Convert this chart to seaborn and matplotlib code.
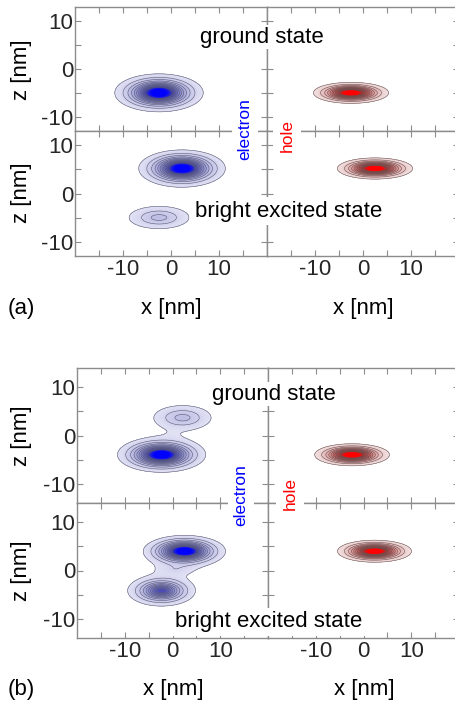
import numpy as np
import matplotlib
matplotlib.use('Agg')
import matplotlib.pyplot as plt
from matplotlib.colors import LinearSegmentedColormap, Normalize
import seaborn as sns

sns.set_theme(style='white')
plt.rcParams['font.family'] = ['Liberation Sans', 'DejaVu Sans']
plt.rcParams['axes.unicode_minus'] = False

# lobes of each density map: (x0, z0, width_x, width_z, amplitude), nm
a_elec_ground = [(-2.5, -5.0, 2.38, 1.03, 1.0)]
a_elec_bright = [(2.3, 5.2, 2.33, 1.0, 1.0), (-2.5, -5.0, 3.13, 1.16, 0.17)]
a_hole_ground = [(-2.5, -5.0, 2.02, 0.57, 1.0)]
a_hole_bright = [(2.5, 5.2, 2.02, 0.57, 1.0)]

b_elec_ground = [(-2.3, -4.0, 2.38, 0.94, 1.0), (2.1, 3.7, 3.0, 1.26, 0.17),
                 (0.0, 0.2, 1.2, 0.6, 0.011)]
b_elec_bright = [(2.5, 4.0, 2.22, 0.85, 1.0), (-2.3, -4.2, 2.18, 0.98, 0.55),
                 (0.6, 0.2, 2.5, 0.8, 0.06)]
b_hole_ground = [(-2.4, -4.0, 2.02, 0.59, 1.0)]
b_hole_bright = [(2.3, 4.0, 2.0, 0.59, 1.0)]

x_ticks = [-15, -10, -5, 0, 5, 10, 15]
x_ticklabels = ['', '-10', '', '0', '', '10', '']
z_ticks = [-10, -5, 0, 5, 10]
z_ticklabels = ['-10', '', '0', '', '10']
line_levels = np.linspace(0.05, 0.6, 12)
fill_levels = np.linspace(0.05, 1.0, 96)

elec_cmap = LinearSegmentedColormap.from_list(
    'elec', [(0, '#e2e2f5'), (0.32, '#8484cc'), (0.58, '#3a3ab4'), (0.84, '#0000ff'), (1, '#0000ff')])
hole_cmap = LinearSegmentedColormap.from_list(
    'hole', [(0, '#f2e2e2'), (0.32, '#c86060'), (0.58, '#b82828'), (0.84, '#ff0000'), (1, '#ff0000')])
norm = Normalize(0.05, 1.0)

W, H = 455, 702
fig = plt.figure(figsize=(W / 100, H / 100), dpi=100)


def box(l, t, r, b):
    return [l / W, 1 - b / H, (r - l) / W, (b - t) / H]


def density(lobes, xg, zg):
    f = np.zeros_like(xg)
    for x0, z0, sx, sz, amp in lobes:
        r2 = ((xg - x0) / sx) ** 2 + ((zg - z0) / sz) ** 2
        f += amp * np.exp(1.0 - np.sqrt(1.0 + r2))
    return f


def draw_map(rect, lobes, cmap, line_color, zmax, xlabels, zlabels):
    ax = fig.add_axes(rect)
    xg, zg = np.meshgrid(np.linspace(-20, 20, 400), np.linspace(-zmax, zmax, 300))
    f = density(lobes, xg, zg)
    ax.contourf(xg, zg, f, levels=fill_levels, cmap=cmap, norm=norm, extend='max')
    ax.contour(xg, zg, f, levels=line_levels, colors=line_color, linewidths=0.4)
    ax.set_xlim(-20, 20)
    ax.set_ylim(-zmax, zmax)
    ax.set_xticks(x_ticks)
    ax.set_xticklabels(x_ticklabels if xlabels else [])
    ax.set_yticks(z_ticks)
    ax.set_yticklabels(z_ticklabels if zlabels else [])
    ax.tick_params(direction='in', top=True, right=True, bottom=True, left=True,
                   length=4, width=0.8, color='#8c8c8c', labelsize=16)
    ax.tick_params(axis='x', pad=2)
    ax.tick_params(axis='y', pad=1)
    for s in ax.spines.values():
        s.set_color('#8c8c8c')
        s.set_linewidth(1.0)
    return ax


def draw_panel(cols, rows, zmax, maps):
    for i, (t, b) in enumerate(rows):
        for j, (l, r) in enumerate(cols):
            lobes, cmap, lc = maps[i][j]
            draw_map(box(l, t, r, b), lobes, cmap, lc, zmax, i == 1, j == 0)


ec, hc = '#5a5a72', '#6a5050'
draw_panel([(75, 267), (267, 459)], [(7, 131), (131, 256)], 13,
           [[(a_elec_ground, elec_cmap, ec), (a_hole_ground, hole_cmap, hc)],
            [(a_elec_bright, elec_cmap, ec), (a_hole_bright, hole_cmap, hc)]])
draw_panel([(77, 268), (268, 459)], [(368, 503), (503, 638)], 14,
           [[(b_elec_ground, elec_cmap, ec), (b_hole_ground, hole_cmap, hc)],
            [(b_elec_bright, elec_cmap, ec), (b_hole_bright, hole_cmap, hc)]])


def label(x, y, s, size=16, color='black', rot=0, pad=None):
    kw = {}
    if pad is not None:
        kw['bbox'] = dict(boxstyle='square,pad=%g' % pad, fc='white', ec='none')
    fig.text(x / W, 1 - y / H, s, fontsize=size, color=color, rotation=rot,
             ha='center', va='center', zorder=5, **kw)


label(262, 37, 'ground state', pad=0.05)
label(289, 211, 'bright excited state', pad=0.15)
label(245, 129, 'electron', size=12.5, color='#0000ff', rot=90, pad=0.3)
label(287, 136, 'hole', size=12.5, color='#ff0000', rot=90, pad=0.35)
label(22, 70, 'z [nm]', rot=90)
label(22, 193, 'z [nm]', rot=90)
label(21, 308, '(a)')
label(171, 308, 'x [nm]')
label(363, 308, 'x [nm]')

label(274, 394, 'ground state', pad=0.05)
label(269, 622, 'bright excited state', pad=0.15)
label(241, 495, 'electron', size=12.5, color='#0000ff', rot=90, pad=0.3)
label(290, 494, 'hole', size=12.5, color='#ff0000', rot=90, pad=0.35)
label(22, 436, 'z [nm]', rot=90)
label(22, 571, 'z [nm]', rot=90)
label(21, 689, '(b)')
label(173, 689, 'x [nm]')
label(364, 689, 'x [nm]')

fig.savefig('out.png', dpi=100)
